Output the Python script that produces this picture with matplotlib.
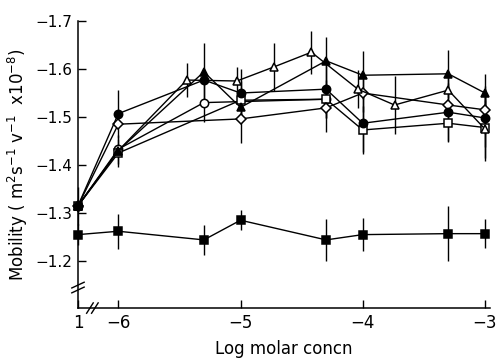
import numpy as np
import matplotlib.pyplot as plt

# x position used for the "1" (no drug) column, left of the axis break
CTRL = -6.33

# filled squares (bottom curve)
sq_f_x = [CTRL, -6, -5.3, -5, -4.3, -4, -3.3, -3]
sq_f_y = [-1.255, -1.262, -1.244, -1.285, -1.244, -1.255, -1.257, -1.257]
sq_f_err = [0.022, 0.036, 0.031, 0.021, 0.044, 0.035, 0.057, 0.03]

# filled circles
ci_f_x = [CTRL, -6, -5.3, -5, -4.3, -4, -3.3, -3]
ci_f_y = [-1.315, -1.507, -1.577, -1.55, -1.558, -1.487, -1.51, -1.498]
ci_f_err = [0.04, 0.05, 0.0, 0.05, 0.06, 0.06, 0.06, 0.06]

# open diamonds
di_o_x = [CTRL, -6, -5, -4.3, -4, -3.3, -3]
di_o_y = [-1.315, -1.485, -1.496, -1.519, -1.55, -1.525, -1.515]
di_o_err = [0.0, 0.0, 0.05, 0.05, 0.04, 0.0, 0.05]

# open squares
sq_o_x = [CTRL, -6, -5, -4.3, -4, -3.3, -3]
sq_o_y = [-1.315, -1.425, -1.535, -1.537, -1.473, -1.487, -1.478]
sq_o_err = [0.0, 0.03, 0.04, 0.04, 0.05, 0.04, 0.07]

# open circles
ci_o_x = [CTRL, -6, -5.3, -4.3]
ci_o_y = [-1.315, -1.433, -1.53, -1.537]
ci_o_err = [0.0, 0.03, 0.04, 0.0]

# filled triangles
tr_f_x = [CTRL, -6, -5.3, -5, -4.3, -4, -3.3, -3]
tr_f_y = [-1.315, -1.43, -1.594, -1.52, -1.617, -1.587, -1.59, -1.55]
tr_f_err = [0.0, 0.0, 0.06, 0.0, 0.05, 0.05, 0.05, 0.04]

# open triangles
tr_o_x = [CTRL, -6, -5.44, -5.03, -4.73, -4.42, -4.04, -3.74, -3.3, -3]
tr_o_y = [-1.315, -1.43, -1.577, -1.575, -1.604, -1.635, -1.558, -1.525, -1.556, -1.475]
tr_o_err = [0.0, 0.0, 0.036, 0.03, 0.05, 0.045, 0.04, 0.06, 0.04, 0.06]

x_ticks = [CTRL, -6, -5, -4, -3]
x_labels = ['1', '\u22126', '\u22125', '\u22124', '\u22123']
y_ticks = [-1.2, -1.3, -1.4, -1.5, -1.6, -1.7]
y_labels = ['\u22121.2', '\u22121.3', '\u22121.4', '\u22121.5', '\u22121.6', '\u22121.7']

fig = plt.figure(figsize=(4.98, 3.62), dpi=100)
ax = fig.add_axes([0.1566, 0.149, 0.827, 0.793])

series = [
    (sq_f_x, sq_f_y, sq_f_err, 's', 'black'),
    (ci_o_x, ci_o_y, ci_o_err, 'o', 'white'),
    (sq_o_x, sq_o_y, sq_o_err, 's', 'white'),
    (di_o_x, di_o_y, di_o_err, 'D', 'white'),
    (ci_f_x, ci_f_y, ci_f_err, 'o', 'black'),
    (tr_o_x, tr_o_y, tr_o_err, '^', 'white'),
    (tr_f_x, tr_f_y, tr_f_err, '^', 'black'),
]

for x, y, e, m, fc in series:
    ms = 5.0 if m == 'D' else 6.0
    ax.errorbar(x, y, yerr=e, fmt='-', color='black', lw=1.0, elinewidth=1.0,
                capsize=0, marker=m, ms=ms, mfc=fc, mec='black', mew=1.1,
                clip_on=False, zorder=3)

ax.set_xlim(CTRL, -2.96)
ax.set_ylim(-1.102, -1.70)

ax.spines['top'].set_visible(False)
ax.spines['right'].set_visible(False)
for s in ['left', 'bottom']:
    ax.spines[s].set_linewidth(1.1)

ax.set_xticks(x_ticks, x_labels)
ax.set_yticks(y_ticks, y_labels)
ax.tick_params(direction='in', length=6, width=1.0, labelsize=11, pad=4)
ax.tick_params(axis='x', labelsize=12)

# axis break marks
kw = dict(transform=ax.transAxes, color='black', lw=1.0, clip_on=False)
for fx in [0.029, 0.041]:
    ax.plot([fx - 0.008, fx + 0.008], [-0.018, 0.018], **kw)
for fy in [0.063, 0.08]:
    ax.plot([-0.015, 0.015], [fy - 0.01, fy + 0.01], **kw)

ax.set_xlabel('Log molar concn', fontsize=12, labelpad=6)
ax.set_ylabel('Mobility ( m$^2$s$^{-1}$ v$^{-1}$  x10$^{-8}$)', fontsize=12, labelpad=4)

fig.savefig('out.png', dpi=100)
